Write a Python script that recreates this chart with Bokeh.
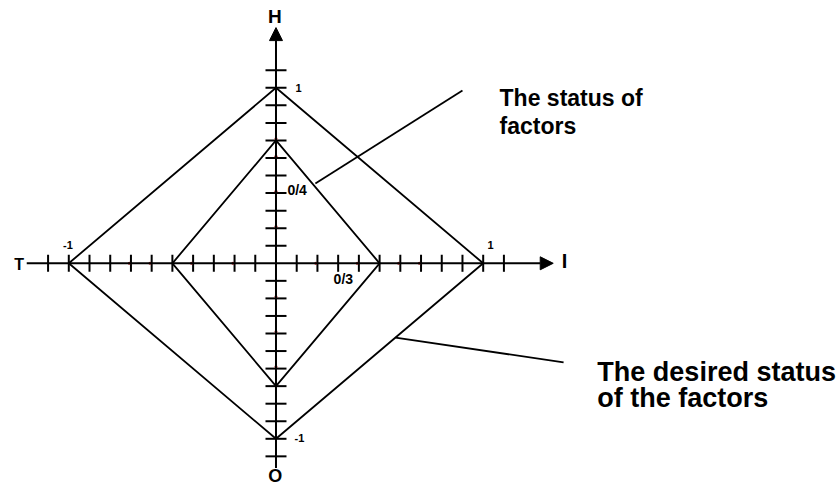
import math
from bokeh.plotting import figure
from bokeh.models import Arrow, NormalHead
from bokeh.core.properties import value
from bokeh.embed import file_html
from bokeh.resources import INLINE

# ---- data ----
axis_names = ["T", "I", "H", "O"]          # left, right, top, bottom
# status of factors (inner diamond): I, H, T, O
status_I, status_H, status_T, status_O = 0.5, 0.7, -0.5, -0.7
# desired status of factors (outer diamond)
desired_I, desired_H, desired_T, desired_O = 1.0, 1.0, -1.0, -1.0

tick_values = [-1.1, -1.0, -0.9, -0.8, -0.7, -0.6, -0.5, -0.4, -0.3, -0.2, -0.1,
               0.1, 0.2, 0.3, 0.4, 0.5, 0.6, 0.7, 0.8, 0.9, 1.0, 1.1]
red_marks = [-0.7, -0.6, -0.4, -0.2, 0.2, 0.4, 0.6, 0.7]
tick_label_text = ["-1", "1", "1", "-1", "0/4", "0/3"]
callout_texts = [["The status of", "factors"], ["The desired status", "of the factors"]]

FONT = value("Liberation Sans")

p = figure(width=838, height=488, output_backend="svg", toolbar_location=None,
           x_range=(-1.3296, 2.7148), y_range=(-1.2832, 1.4974), min_border=0)
p.axis.visible = False
p.grid.visible = False
p.outline_line_color = None
p.background_fill_color = "white"
p.border_fill_color = "white"

# axes with arrowheads
p.add_layout(Arrow(end=NormalHead(size=13, fill_color="black", line_color="black"),
                   x_start=-1.203, y_start=0, x_end=1.338, y_end=0,
                   line_width=2, line_color="black"))
p.add_layout(Arrow(end=NormalHead(size=13, fill_color="black", line_color="black"),
                   x_start=0, y_start=-1.166, x_end=0, y_end=1.343,
                   line_width=2, line_color="black"))

# tick marks
p.scatter(x=tick_values, y=[0] * len(tick_values), marker="dash", size=17,
          angle=math.pi / 2, line_color="black", line_width=2)
p.scatter(x=[0] * len(tick_values), y=tick_values, marker="dash", size=21,
          line_color="black", line_width=2)
# small red marks
p.scatter(x=[v - 0.008 for v in red_marks], y=[0] * len(red_marks), marker="circle",
          size=3, fill_color="#b02020", line_color=None)
p.scatter(x=[0] * len(red_marks), y=[v + 0.01 for v in red_marks], marker="circle",
          size=3, fill_color="#b02020", line_color=None)

# diamonds
p.line(x=[desired_I, 0, desired_T, 0, desired_I], y=[0, desired_H, 0, desired_O, 0],
       line_color="black", line_width=1.8)
p.line(x=[status_I, 0, status_T, 0, status_I], y=[0, status_H, 0, status_O, 0],
       line_color="black", line_width=1.8)

# callout lines
p.line(x=[0.19, 0.90], y=[0.455, 0.985], line_color="black", line_width=1.8)
p.line(x=[0.577, 1.388], y=[-0.423, -0.565], line_color="black", line_width=1.8)

# callout texts
p.text(x=[1.079, 1.079], y=[0.94, 0.785], text=callout_texts[0], text_font=FONT,
       text_font_style="bold", text_font_size="23px", text_baseline="alphabetic",
       text_align="left", text_color="black")
p.text(x=[1.551, 1.551], y=[-0.622, -0.77], text=callout_texts[1], text_font=FONT,
       text_font_style="bold", text_font_size="27px", text_baseline="alphabetic",
       text_align="left", text_color="black")

# axis names
p.text(x=[-1.24], y=[-0.005], text=[axis_names[0]], text_font=FONT, text_font_style="bold",
       text_font_size="16px", text_align="center", text_baseline="middle")
p.text(x=[1.392], y=[0.013], text=[axis_names[1]], text_font=FONT, text_font_style="bold",
       text_font_size="20px", text_align="center", text_baseline="middle")
p.text(x=[-0.005], y=[1.406], text=[axis_names[2]], text_font=FONT, text_font_style="bold",
       text_font_size="19px", text_align="center", text_baseline="middle")
p.text(x=[-0.003], y=[-1.214], text=[axis_names[3]], text_font=FONT, text_font_style="bold",
       text_font_size="18px", text_align="center", text_baseline="middle")

# tick labels
p.text(x=[-1.004, 1.035, 0.109, 0.113], y=[0.107, 0.107, 1.0, -0.993],
       text=tick_label_text[:4], text_font=FONT, text_font_style="bold",
       text_font_size="11px", text_align="center", text_baseline="middle")
p.text(x=[0.055, 0.278], y=[0.415, -0.092], text=tick_label_text[4:], text_font=FONT,
       text_font_style="bold", text_font_size="14px", text_align="left",
       text_baseline="middle")

open("out.html", "w").write(file_html(p, INLINE))
